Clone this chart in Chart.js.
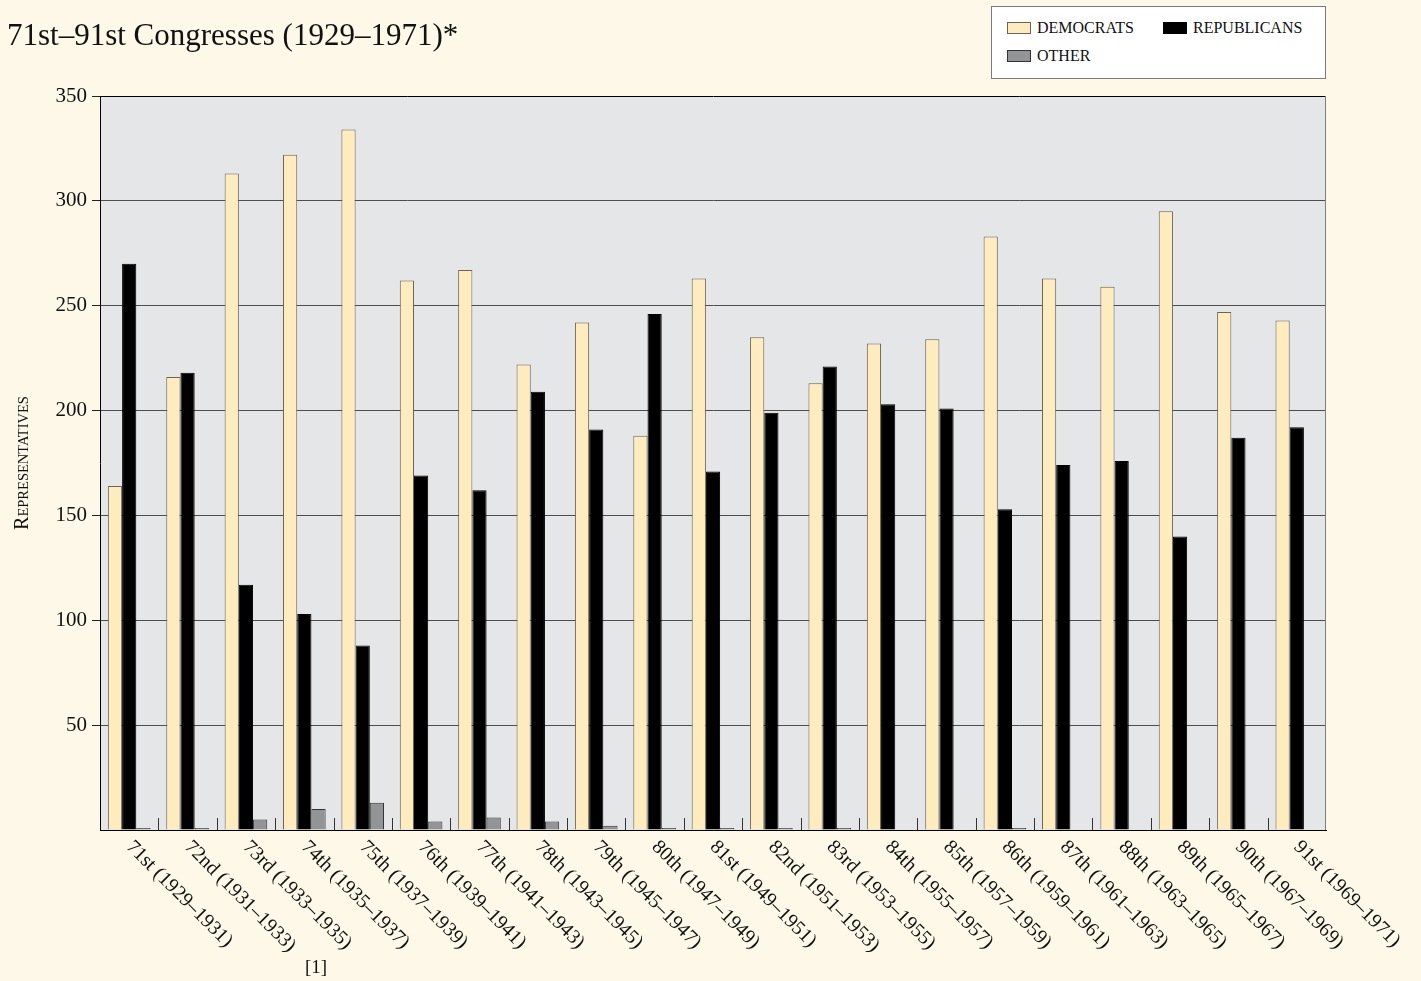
<!DOCTYPE html>
<html>
<head>
<meta charset="utf-8">
<script src="https://cdn.jsdelivr.net/npm/chart.js@4"></script>
<style>
body { margin: 0; background: #fdf8e7; font-family: 'Liberation Serif', serif; color: #111; }
#wrap { position: relative; width: 1421px; height: 981px; }
#sub { position: absolute; left: 7px; top: 19px; font-size: 31px; line-height: 1; white-space: nowrap; }
#legend { position: absolute; left: 991px; top: 6px; width: 335px; height: 73px; box-sizing: border-box;
  background: #fff; border: 1px solid #7a7a7a; display: grid; grid-template-columns: 156px auto;
  grid-auto-rows: 20px; row-gap: 8px; padding: 11px 0 0 15px; }
.item { display: flex; align-items: center; font-size: 16px; white-space: nowrap; }
.box { display: inline-block; width: 24px; height: 12px; box-sizing: border-box; border: 1px solid #000; margin-right: 6px; }
#note { position: absolute; left: 305px; top: 957px; font-size: 19px; line-height: 1; }
</style>
</head>
<body>
<div id="wrap">
  <canvas id="myChart"></canvas>
  <div id="sub">71st–91st Congresses (1929–1971)*</div>
  <div id="legend"></div>
  <div id="note">[1]</div>
</div>
<script>
const congresses = [
  '71st (1929–1931)', '72nd (1931–1933)', '73rd (1933–1935)', '74th (1935–1937)',
  '75th (1937–1939)', '76th (1939–1941)', '77th (1941–1943)', '78th (1943–1945)',
  '79th (1945–1947)', '80th (1947–1949)', '81st (1949–1951)', '82nd (1951–1953)',
  '83rd (1953–1955)', '84th (1955–1957)', '85th (1957–1959)', '86th (1959–1961)',
  '87th (1961–1963)', '88th (1963–1965)', '89th (1965–1967)', '90th (1967–1969)',
  '91st (1969–1971)'
];
const democrats = [164, 216, 313, 322, 334, 262, 267, 222, 242, 188, 263, 235, 213, 232, 234, 283, 263, 259, 295, 247, 243];
const republicans = [270, 218, 117, 103, 88, 169, 162, 209, 191, 246, 171, 199, 221, 203, 201, 153, 174, 176, 140, 187, 192];
const other = [1, 1, 5, 10, 13, 4, 6, 4, 2, 1, 1, 1, 1, 0, 0, 1, 0, 0, 0, 0, 0];

const serif = "'Liberation Serif'";

const extras = {
  id: 'extras',
  beforeDraw(chart) {
    const {ctx, chartArea: a} = chart;
    ctx.save();
    ctx.fillStyle = '#e5e6e8';
    ctx.fillRect(a.left, a.top, a.right - a.left, a.bottom - a.top);
    ctx.restore();
  },
  afterDatasetsDraw(chart) {
    const {ctx, chartArea: a} = chart;
    const x = chart.scales.x;
    ctx.save();
    ctx.lineWidth = 1;
    ctx.strokeStyle = '#333';
    ctx.beginPath();
    for (let i = 1; i < congresses.length; i++) {
      const px = Math.round(x.getPixelForValue(i - 0.5)) + 0.5;
      ctx.moveTo(px, a.bottom);
      ctx.lineTo(px, a.bottom - 12);
    }
    ctx.stroke();
    ctx.strokeStyle = '#7d7d7d';
    ctx.beginPath();
    ctx.moveTo(a.right - 0.5, a.top);
    ctx.lineTo(a.right - 0.5, a.bottom);
    ctx.stroke();
    ctx.restore();
  },
  afterDraw(chart) {
    const {ctx, chartArea: a} = chart;
    const x = chart.scales.x;
    ctx.save();
    ctx.fillStyle = '#111';
    ctx.font = '20px ' + serif;
    ctx.textAlign = 'left';
    ctx.textBaseline = 'middle';
    congresses.forEach((c, i) => {
      ctx.save();
      ctx.translate(x.getPixelForValue(i), a.bottom + 14);
      ctx.rotate(Math.PI / 4);
      ctx.fillText(c, 0, 0);
      ctx.restore();
    });
    // small caps axis title
    ctx.translate(28, (a.top + a.bottom) / 2);
    ctx.rotate(-Math.PI / 2);
    ctx.textBaseline = 'alphabetic';
    ctx.font = '20px ' + serif;
    const w1 = ctx.measureText('R').width;
    ctx.font = '14.5px ' + serif;
    const w2 = ctx.measureText('EPRESENTATIVES').width;
    const sx = -(w1 + w2) / 2;
    ctx.font = '20px ' + serif;
    ctx.fillText('R', sx, 0);
    ctx.font = '14.5px ' + serif;
    ctx.fillText('EPRESENTATIVES', sx + w1, 0);
    ctx.restore();
  }
};

const data = {
  labels: congresses,
  datasets: [{
    label: 'DEMOCRATS',
    data: democrats,
    backgroundColor: '#feecbf',
    borderColor: '#6b6456',
    borderWidth: 1
  },
  {
    label: 'REPUBLICANS',
    data: republicans,
    backgroundColor: '#000000',
    borderColor: '#000000',
    borderWidth: 1
  },
  {
    label: 'OTHER',
    data: other,
    backgroundColor: '#939496',
    borderColor: '#333333',
    borderWidth: 1
  }]
};

const config = {
  type: 'bar',
  data: data,
  plugins: [extras],
  options: {
    responsive: true,
    maintainAspectRatio: false,
    animation: false,
    categoryPercentage: 0.73,
    barPercentage: 1,
    layout: { padding: { top: 96, right: 95, bottom: 141, left: 0 } },
    plugins: {
      legend: { display: false },
      tooltip: { enabled: false }
    },
    scales: {
      x: {
        offset: true,
        grid: { display: false },
        border: { color: '#000' },
        ticks: { display: false },
        afterFit: s => { s.height = 10; }
      },
      y: {
        min: 0,
        max: 350,
        ticks: {
          stepSize: 50,
          color: '#111',
          padding: 5,
          font: { family: serif, size: 21 },
          callback: v => v === 0 ? '' : v
        },
        grid: {
          color: c => c.tick.value === 350 ? '#000' : '#4d4d4d',
          tickColor: c => c.tick.value === 0 ? 'rgba(0,0,0,0)' : '#222',
          tickLength: 8
        },
        border: { color: '#000' },
        afterFit: s => { s.width = 100; }
      }
    }
  }
};

document.getElementById('wrap').style.height = '981px';
const myChart = new Chart(document.getElementById('myChart'), config);

const legend = document.getElementById('legend');
myChart.data.datasets.forEach(ds => {
  const item = document.createElement('div');
  item.className = 'item';
  const box = document.createElement('span');
  box.className = 'box';
  box.style.background = ds.backgroundColor;
  box.style.borderColor = ds.borderColor;
  item.appendChild(box);
  item.appendChild(document.createTextNode(ds.label));
  legend.appendChild(item);
});
</script>
</body>
</html>
